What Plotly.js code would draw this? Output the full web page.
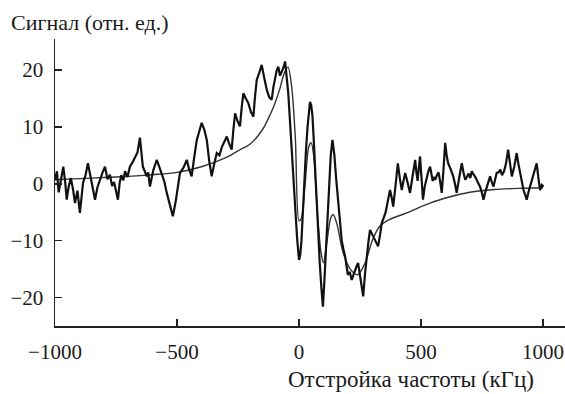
<!DOCTYPE html>
<html>
<head>
<meta charset="utf-8">
<script src="https://cdn.plot.ly/plotly-3.0.1.min.js"></script>
<style>
html,body{margin:0;padding:0;background:#fff;}
#chart{width:565px;height:394px;}
</style>
</head>
<body>
<div id="chart"></div>
<script>
// Measured (noisy) signal
var measX = [-1000,-992,-985,-975,-966,-958,-952,-944,-935,-926,-918,-908,-898,-885,-875,-865,-858,-850,-843,-836,-826,-816,-805,-795,-785,-775,-766,-758,-750,-742,-735,-728,-720,-713,-703,-693,-682,-672,-662,-652,-646,-640,-632,-624,-618,-611,-597,-583,-573,-563,-552,-542,-530,-517,-505,-496,-488,-474,-460,-450,-440,-430,-419,-409,-399,-388,-378,-368,-358,-347,-337,-326,-316,-306,-296,-286,-276,-269,-262,-252,-242,-235,-228,-218,-208,-197,-187,-180,-173,-163,-153,-142,-132,-122,-112,-105,-98,-92,-85,-78,-71,-64,-57,-50,-44,-37,-30,-22,-15,-8,0,5,10,15,20,28,35,40,45,50,55,60,65,70,75,80,85,92,98,104,110,115,120,125,130,137,145,152,160,168,175,182,189,195,200,208,216,223,230,236,242,252,263,270,278,285,291,302,312,318,324,332,339,347,355,364,373,380,386,395,405,413,421,428,435,445,455,466,476,481,486,491,496,502,508,515,522,530,537,543,548,553,558,565,572,579,585,592,599,605,611,622,632,639,646,657,667,674,681,688,695,702,708,716,725,733,742,749,756,763,770,776,783,790,797,804,810,818,825,832,840,848,857,865,872,882,892,899,905,913,920,927,933,942,950,955,960,967,974,981,988,995,1002];
var measY = [0.7,2.2,-1.5,0.8,3.0,0.2,-2.8,-0.5,1.0,-1.0,-3.4,-1.2,-5.1,0.2,1.5,3.6,2.0,0.5,-1.2,-2.8,-0.6,0.7,2.0,3.0,0.8,1.6,-0.4,0.3,-1.5,-2.8,0.2,1.5,0.6,2.2,1.2,3.0,3.8,4.8,5.5,8.1,5.2,3.0,2.2,1.3,2.0,-0.5,2.4,4.2,3.0,1.9,0.4,-1.6,-3.5,-5.7,-3,-0.6,1.9,2.8,4.2,2.5,1.3,4.5,7.7,9.2,10.7,9.5,7.7,4.0,1.3,3.6,5.4,5.0,6.5,7.4,8.3,7.0,6.0,9.5,12.4,11.0,10.1,13.4,15.9,15.0,14.2,12.6,11.8,15.5,18.3,19.5,20.9,18.5,16.5,15.2,14.8,17.0,18.9,19.8,20.6,19.0,19.7,20.4,21.5,19.0,15.9,11.0,6.0,0.5,-5,-9.5,-13.4,-12.5,-10,-5.5,0,5.5,10,12.5,14.4,13.8,12,8,3,-1,-5,-9.5,-14,-18.5,-21.6,-17,-12,-7,-2,1.5,5,7.7,5,1,-3,-6.5,-10,-11.5,-12.8,-14.5,-16,-15.5,-16.9,-16,-15,-14.5,-13.9,-17,-19.8,-16,-12.2,-10,-8.1,-9.0,-9.8,-10.5,-11,-9,-6.9,-6,-5,-3,-1.1,-2.5,-4,-0.5,3.6,1.0,-1.1,0.5,1.9,0.2,-1.6,1.5,4.2,2.0,0.5,2.8,4.8,1.0,-2.8,-0.5,1,2.2,3.0,1.5,0.5,1.2,0.7,1.5,2,0.2,-1.6,2.5,7.2,5.0,3.6,2.5,1.3,0,-1.6,1.2,3.6,2.0,0.7,1.2,1.8,1.0,2.2,1.6,1,0.2,-0.5,-1.5,-2.8,-1.5,-0.5,0.5,1.3,0.3,-0.5,0.8,1.9,2.0,2.5,1.5,2.2,3.5,6.0,3.5,1.3,3.0,5.4,3.5,2,0.5,-1.1,-2.0,-2.8,-1.2,0,0.8,1.5,2.5,3.6,1.0,-1.1,-0.2,-0.5];
// Smooth (fitted) curve
var fitX = [-1000,-900,-800,-700,-600,-500,-400,-300,-250,-200,-150,-120,-100,-80,-60,-45,-30,-15,0,10,25,40,50,60,75,90,100,115,130,140,155,180,210,240,270,300,330,370,450,500,600,700,800,900,1000];
var fitY = [0.7,0.9,1.1,1.3,1.6,2.0,3.0,4.6,5.8,7.0,9.5,12,14,16.5,19.5,20.5,17,8,-6.5,-6,0,6.5,7.2,5,-5,-12,-13.9,-10,-6,-5.4,-7,-12,-15,-16,-14,-10,-7.5,-6.3,-5,-4,-2.5,-1.5,-1,-0.8,-0.7];
var xTicks = [-1000,-500,0,500,1000];
var yTicks = [-20,-10,0,10,20];
var yLabel = 'Сигнал (отн. ед.)';
var xLabel = 'Отстройка частоты (кГц)';

var font = {family:'Liberation Serif', size:22, color:'#1a1a1a'};
var tickFont = {family:'Liberation Serif', size:21, color:'#1a1a1a'};
var xLabelFont = {family:'Liberation Serif', size:23, color:'#1a1a1a'};
var traces = [
  {x:fitX, y:fitY, mode:'lines', line:{color:'#333', width:1.4, shape:'spline', smoothing:0.8}, hoverinfo:'skip'},
  {x:measX, y:measY, mode:'lines', line:{color:'#111', width:2.2}, hoverinfo:'skip'}
];
var layout = {
  width:565, height:394,
  margin:{l:55, r:0, t:39, b:68},
  paper_bgcolor:'#fff', plot_bgcolor:'#fff',
  showlegend:false,
  font:font,
  xaxis:{range:[-1000,1090], tickvals:xTicks, ticks:'inside', ticklen:7, tickwidth:1.5, tickcolor:'#222',
         showline:true, linecolor:'#222', linewidth:1.5, showgrid:false, zeroline:false, tickfont:tickFont, ticklabelstandoff:6},
  yaxis:{range:[-25,25.45], tickvals:yTicks, ticks:'inside', ticklen:7, tickwidth:1.5, tickcolor:'#222',
         showline:true, linecolor:'#222', linewidth:1.5, showgrid:false, zeroline:false, tickfont:tickFont, ticklabelstandoff:6},
  annotations:[
    {text:yLabel, xref:'paper', yref:'paper', x:-0.090, y:1.059, xanchor:'left', yanchor:'middle', showarrow:false, font:font},
    {text:xLabel, xref:'paper', yref:'paper', x:0.943, y:-0.188, xanchor:'right', yanchor:'middle', showarrow:false, font:xLabelFont}
  ]
};
Plotly.newPlot('chart', traces, layout, {staticPlot:true, displayModeBar:false});
</script>
</body>
</html>
